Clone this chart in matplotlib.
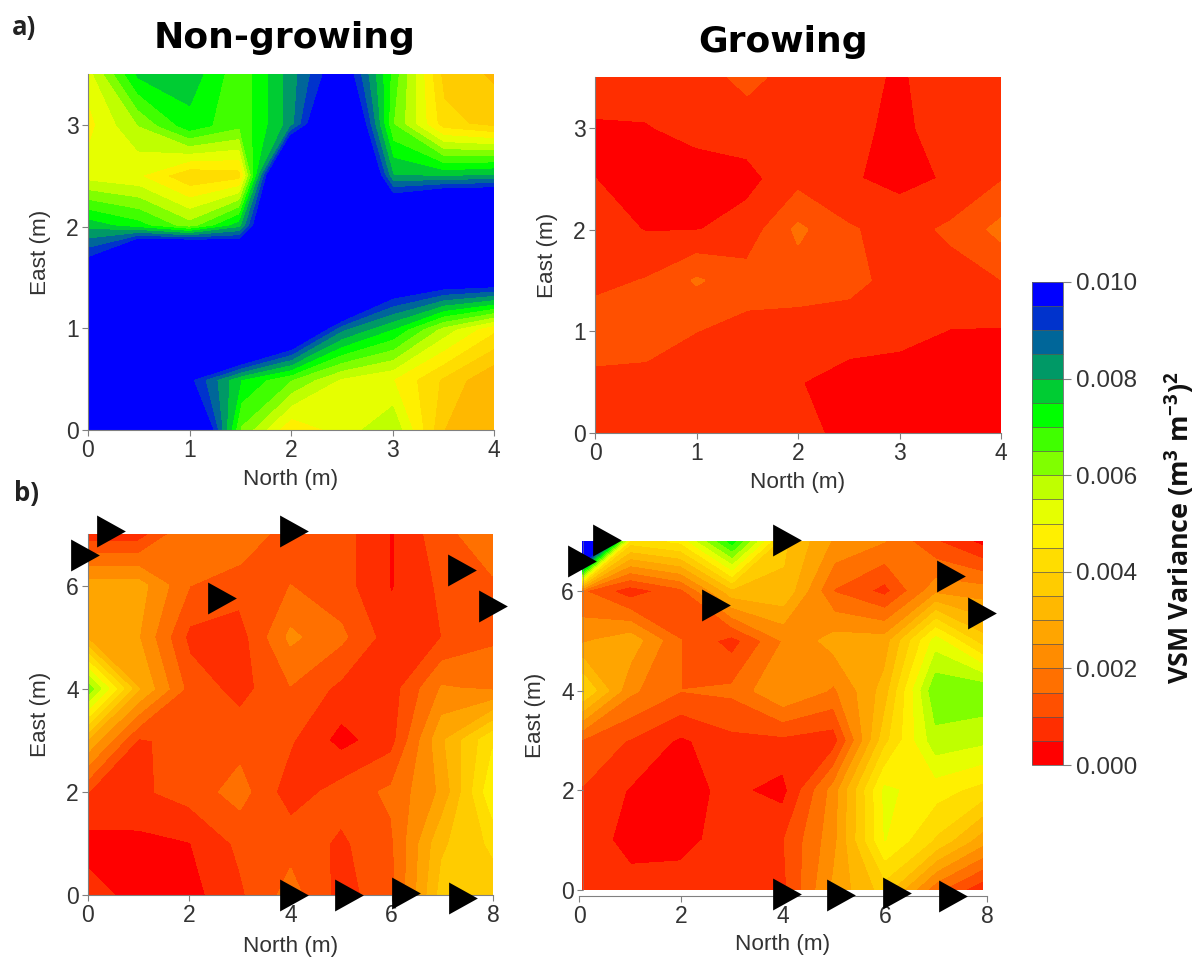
import numpy as np
import matplotlib
matplotlib.use("Agg")
import matplotlib.pyplot as plt
from matplotlib.cm import ScalarMappable
from matplotlib.colors import ListedColormap, BoundaryNorm

plt.rcParams["font.family"] = ["Liberation Sans", "DejaVu Sans"]
plt.rcParams["mathtext.default"] = "regular"

W, H = 1201, 958

# grid coordinates
north_a = [0, 0.5, 1, 1.5, 2, 2.5, 3, 3.5, 4]
east_a = [3.5, 3, 2.5, 2, 1.5, 1, 0.5, 0]
north_b1 = [0, 1, 2, 3, 4, 5, 6, 7, 8]
north_b2 = [0.08, 1, 2, 3, 4, 5, 6, 7, 7.9]
east_b = [7, 6, 5, 4, 3, 2, 1, 0]

# VSM variance, in units of 0.001, top row first
a_nongrowing = [
    [5.2, 7.6, 7.8, 6.6, 8.2, 10.2, 6.8, 3.8, 3.4],
    [4.8, 6.0, 7.3, 6.6, 8.2, 12.0, 6.5, 4.2, 3.8],
    [5.2, 5.0, 4.0, 4.2, 14.0, 14.0, 8.0, 7.8, 8.0],
    [7.8, 7.2, 6.2, 7.8, 14.0, 14.0, 12.0, 14.0, 14.0],
    [10.5, 16.0, 18.0, 14.0, 14.0, 14.0, 10.8, 10.5, 10.5],
    [14.0, 14.0, 14.0, 14.0, 11.5, 8.6, 7.5, 5.8, 4.6],
    [14.0, 14.0, 9.6, 7.5, 6.5, 5.4, 5.0, 3.9, 3.0],
    [14.0, 14.0, 12.0, 6.4, 4.5, 5.2, 5.9, 3.5, 3.0],
]
a_growing = [
    [0.70, 0.70, 0.75, 1.15, 0.75, 0.62, 0.45, 0.70, 0.70],
    [0.45, 0.47, 0.62, 0.72, 0.75, 0.60, 0.40, 0.70, 0.75],
    [0.50, 0.30, 0.30, 0.35, 0.80, 0.55, 0.35, 0.55, 0.95],
    [0.75, 0.47, 0.47, 0.70, 1.60, 1.05, 0.80, 1.08, 1.65],
    [0.85, 1.02, 1.55, 1.20, 1.25, 1.15, 0.80, 0.80, 0.98],
    [1.30, 1.25, 1.00, 0.85, 0.75, 0.72, 0.62, 0.48, 0.45],
    [0.85, 0.82, 0.78, 0.70, 0.52, 0.30, 0.30, 0.30, 0.30],
    [0.70, 0.70, 0.70, 0.70, 0.65, 0.35, 0.30, 0.30, 0.30],
]
b_nongrowing = [
    [0.7, 0.7, 2.0, 1.9, 1.2, 1.2, 0.45, 1.3, 1.9],
    [2.7, 2.7, 1.5, 1.2, 1.5, 1.2, 0.45, 1.1, 1.4],
    [2.8, 2.5, 0.85, 0.75, 2.1, 1.6, 0.7, 1.0, 1.4],
    [6.3, 3.0, 1.3, 0.8, 1.45, 0.85, 0.75, 2.05, 1.9],
    [2.9, 0.9, 1.25, 1.3, 1.05, 0.3, 0.8, 2.9, 4.4],
    [1.0, 0.9, 1.2, 1.7, 0.7, 1.2, 1.6, 2.6, 4.9],
    [0.3, 0.35, 0.47, 1.1, 1.3, 0.9, 1.4, 3.4, 4.1],
    [0.7, 0.3, 0.3, 0.9, 1.7, 0.8, 1.3, 3.7, 3.7],
]
b_growing = [
    [15.0, 4.2, 4.6, 7.2, 3.6, 2.4, 2.0, 1.0, 0.3],
    [1.5, 0.65, 1.3, 3.3, 3.4, 1.45, 0.8, 2.3, 2.2],
    [2.4, 2.8, 1.5, 0.75, 2.0, 2.7, 2.7, 5.2, 3.7],
    [4.0, 2.1, 1.5, 1.6, 2.5, 1.9, 3.2, 6.4, 6.4],
    [1.4, 0.95, 0.4, 0.85, 0.85, 0.7, 3.8, 5.8, 5.6],
    [0.95, 0.45, 0.35, 0.6, 0.3, 2.2, 5.1, 4.7, 4.3],
    [0.8, 0.3, 0.35, 0.7, 0.95, 2.3, 5.0, 3.9, 2.7],
    [0.7, 0.7, 0.7, 0.75, 0.85, 2.6, 3.7, 1.6, 0.6],
]

# sensor triangles
tri_b1_x = [-0.05, 0.46, 4.07, 2.64, 7.38, 8.0, 4.07, 5.16, 6.28, 7.41]
tri_b1_y = [6.60, 7.06, 7.06, 5.76, 6.31, 5.60, 0.0, 0.0, 0.03, -0.05]
tri_b2_x = [0.05, 0.55, 4.07, 2.69, 7.30, 7.91, 4.07, 5.14, 6.24, 7.33]
tri_b2_y = [6.59, 7.02, 7.02, 5.72, 6.29, 5.55, -0.08, -0.10, -0.06, -0.13]

band_colors = [
    "#ff0000", "#ff2e00", "#ff5000", "#ff7000", "#ff8c00",
    "#ffa500", "#ffb800", "#ffcc00", "#ffdd00", "#fff000",
    "#e6ff00", "#bfff00", "#80ff00", "#40ff00", "#00ff00",
    "#00cc33", "#009966", "#006699", "#0033cc", "#0000ff",
]
levels = [i * 0.0005 for i in range(21)]
cbar_ticks = [0, 0.002, 0.004, 0.006, 0.008, 0.010]

cmap = ListedColormap(band_colors)
cmap.set_over("#0000ff")
norm = BoundaryNorm(levels, cmap.N)

GREY = "#808080"
TXT = "#333333"
TRI = [(-0.9, -1), (0.9, 0), (-0.9, 1)]


def axes_px(left, top, right, bottom):
    return fig.add_axes([left / W, 1 - bottom / H, (right - left) / W, (bottom - top) / H])


def panel(box, x, y, z, xlim, ylim, xticks, yticks, xpad=5, spine_drop=0, spine_x=None):
    ax = axes_px(*box)
    cf = ax.contourf(x, y[::-1], np.array(z)[::-1] / 1000, levels=levels, cmap=cmap,
                     norm=norm, extend="max")
    cf.set_edgecolor("face")
    ax.set_xlim(*xlim)
    ax.set_ylim(*ylim)
    ax.set_xticks(xticks)
    ax.set_yticks(yticks)
    ax.spines[["top", "right"]].set_visible(False)
    ax.spines[["left", "bottom"]].set_color(GREY)
    ax.spines["bottom"].set_position(("outward", spine_drop))
    if spine_x is not None:
        ax.spines["left"].set_position(("data", spine_x))
        ax.spines["left"].set_bounds(0, ylim[1])
        ax.spines["left"].set_linewidth(0.4)
    ax.tick_params(length=4.5, width=0.8, color=GREY, labelsize=16.5, labelcolor=TXT, pad=2)
    ax.set_xlabel("North (m)", fontsize=16.2, color=TXT, labelpad=xpad)
    ax.set_ylabel("East (m)", fontsize=16.2, color=TXT, labelpad=11)
    return ax, cf


fig = plt.figure(figsize=(W / 100, H / 100), dpi=100)

ax1, cf = panel((88, 74, 494, 430), north_a, east_a, a_nongrowing, (0, 4), (0, 3.5),
                [0, 1, 2, 3, 4], [0, 1, 2, 3])
ax2, _ = panel((595, 77, 1001, 433), north_a, east_a, a_growing, (0, 4), (0, 3.5),
               [0, 1, 2, 3, 4], [0, 1, 2, 3])
ax3, _ = panel((88, 534, 493, 895), north_b1, east_b, b_nongrowing, (0, 8), (0, 7),
               [0, 2, 4, 6, 8], [0, 2, 4, 6], xpad=6.5)
ax4, _ = panel((579, 541, 987, 890), north_b2, east_b, b_growing, (0, 8), (0, 7),
               [0, 2, 4, 6, 8], [0, 2, 4, 6], xpad=4, spine_drop=4.5, spine_x=0.08)

for ax, tx, ty in [(ax3, tri_b1_x, tri_b1_y), (ax4, tri_b2_x, tri_b2_y)]:
    ax.plot(tx, ty, ls="none", marker=TRI, ms=23, color="black", mec="none", clip_on=False, zorder=5)

# colour bar
cax = axes_px(1032, 282, 1063, 765)
cb = fig.colorbar(ScalarMappable(norm=norm, cmap=cmap), cax=cax, ticks=cbar_ticks, drawedges=True)
cb.ax.minorticks_off()
cb.ax.set_yticklabels([f"{t:.3f}" for t in cbar_ticks])
cb.ax.tick_params(length=5.5, width=0.8, color=GREY, labelsize=17.5, labelcolor=TXT, pad=4)
cb.outline.set_edgecolor("#666666")
cb.outline.set_linewidth(0.6)
cb.dividers.set_color("#555555")
cb.dividers.set_linewidth(0.5)

fig.text(1180 / W, 1 - 528 / H, "VSM Variance (m$^3$ m$^{-3}$)$^2$", rotation=90, fontsize=19.3,
         family="Open Sans", fontweight="bold", color="#111111", ha="center", va="center")

fig.text(285 / W, 1 - 38 / H, "Non-growing", fontsize=26, family="DejaVu Sans", fontweight="bold",
         color="black", ha="center", va="center")
fig.text(783 / W, 1 - 42 / H, "Growing", fontsize=26, family="DejaVu Sans", fontweight="bold",
         color="black", ha="center", va="center")
fig.text(12 / W, 1 - 27 / H, "a)", fontsize=18.5, family="Open Sans", fontweight="bold",
         color="#222222", ha="left", va="center")
fig.text(14 / W, 1 - 494 / H, "b)", fontsize=18.5, family="Open Sans", fontweight="bold",
         color="#222222", ha="left", va="center")

fig.savefig("out.png", dpi=100)
